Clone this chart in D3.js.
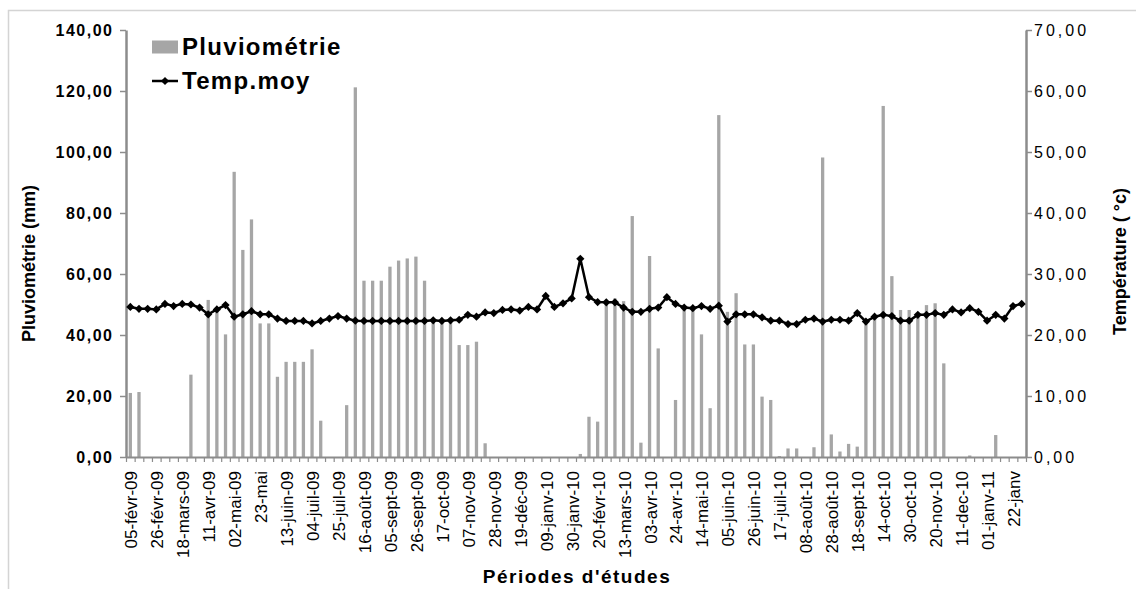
<!DOCTYPE html>
<html lang="fr">
  <head>
    <meta charset="UTF-8"/>
    <title>Pluviométrie et température moyenne</title>
    <script src="https://d3js.org/d3.v7.min.js"></script>
    <style>
      body { margin: 0; background: #fff; }
      text { font-family: 'Liberation Sans', Arial, sans-serif; fill: #000; }
      .axis path, .axis line { stroke: #8c8c8c; fill: none; }
      .y-axis path { stroke-width: 2.5px; }
      .y-axis line { stroke-width: 1.5px; }
      .x-axis path { stroke-width: 2px; }
      .x-axis line { stroke-width: 1.2px; }
      .left-ticks text { font-size: 16px; font-weight: bold; letter-spacing: 1.5px; }
      .right-ticks text { font-size: 16px; letter-spacing: 3px; }
      .x-labels text { font-size: 17px; }
      .axis-title { font-size: 18px; font-weight: bold; }
      .legend text { font-size: 24px; font-weight: bold; letter-spacing: 1.3px; }
      .bar { fill: #a6a6a6; }
      .temp-line { fill: none; stroke: #000; stroke-width: 2.5px; }
    </style>
  </head>
  <body>
    <script>
      // étiquettes affichées (une semaine sur trois)
      const tickLabels = ["05-févr-09", "26-févr-09", "18-mars-09", "11-avr-09", "02-mai-09", "23-mai",
        "13-juin-09", "04-juil-09", "25-juil-09", "16-août-09", "05-sept-09", "26-sept-09", "17-oct-09",
        "07-nov-09", "28-nov-09", "19-déc-09", "09-janv-10", "30-janv-10", "20-févr-10", "13-mars-10",
        "03-avr-10", "24-avr-10", "14-mai-10", "05-juin-10", "26-juin-10", "17-juil-10", "08-août-10",
        "28-août-10", "18-sept-10", "14-oct-10", "30-oct-10", "20-nov-10", "11-dec-10", "01-janv-11", "22-janv"]

      // Pluviométrie (mm), une valeur par période
      const pluvio = [21.0, 21.3, 0, 0, 0, 0, 0, 27.0, 0, 51.5,
        48.0, 40.2, 93.5, 67.9, 77.9, 43.8, 43.8, 26.3, 31.2, 31.2,
        31.2, 35.3, 11.9, 0, 0, 17.0, 121.2, 57.8, 57.8, 57.8,
        62.4, 64.4, 65.1, 65.7, 57.8, 44.5, 44.5, 44.4, 36.7, 36.7,
        37.8, 4.5, 0, 0, 0, 0, 0, 0, 0, 0,
        0, 0, 1.0, 13.2, 11.6, 50.5, 52.0, 51.1, 79.0, 4.7,
        65.9, 35.6, 0, 18.7, 48.2, 48.2, 40.2, 16.0, 112.1, 47.6,
        53.7, 36.9, 36.9, 19.8, 18.7, 0.3, 2.8, 2.8, 0, 3.2,
        98.2, 7.4, 1.8, 4.3, 3.4, 43.9, 45.5, 115.1, 59.3, 48.2,
        48.2, 46.5, 49.8, 50.4, 30.7, 0, 0, 0.5, 0, 0,
        7.2, 0, 0, 0]

      // Température moyenne (°C)
      const tempMoy = [24.6, 24.3, 24.3, 24.2, 25.1, 24.75, 25.1, 25.0, 24.5, 23.4,
        24.2, 24.9, 23.0, 23.4, 23.9, 23.4, 23.4, 22.7, 22.3, 22.3,
        22.3, 21.9, 22.3, 22.7, 23.1, 22.7, 22.35, 22.3, 22.3, 22.3,
        22.3, 22.3, 22.3, 22.3, 22.3, 22.4, 22.3, 22.4, 22.5, 23.3,
        23.0, 23.7, 23.6, 24.1, 24.2, 24.0, 24.6, 24.2, 26.4, 24.6,
        25.2, 26.0, 32.5, 26.2, 25.4, 25.35, 25.35, 24.5, 23.8, 23.8,
        24.3, 24.5, 26.2, 25.1, 24.5, 24.4, 24.75, 24.3, 24.8, 22.2,
        23.4, 23.4, 23.4, 22.9, 22.35, 22.35, 21.8, 21.8, 22.5, 22.7,
        22.2, 22.5, 22.5, 22.35, 23.6, 22.2, 23.0, 23.3, 23.1, 22.35,
        22.35, 23.3, 23.3, 23.6, 23.3, 24.2, 23.7, 24.4, 23.8, 22.35,
        23.3, 22.7, 24.75, 25.1]

      const pluvioTicks = d3.range(0, 141, 20)
      const tempTicks = d3.range(0, 71, 10)

      const width = 1136, height = 589
      const margin = {top: 30, right: 110, bottom: 132, left: 126}
      const x0 = margin.left, x1 = width - margin.right
      const y0 = height - margin.bottom, y1 = margin.top

      const fmt = v => d3.format(".2f")(v).replace(".", ",")

      const svg = d3.select("body").append("svg")
          .attr("width", width)
          .attr("height", height)

      // cadre gris clair
      svg.append("rect")
          .attr("x", 8.5).attr("y", 10.5)
          .attr("width", 1200).attr("height", 700)
          .attr("fill", "none").attr("stroke", "#d4d4d4").attr("stroke-width", 1.5)

      const idx = d3.range(pluvio.length)

      const x = d3.scaleBand().domain(idx).range([x0, x1]).padding(0)
      const xEdge = d3.scaleLinear().domain([0, idx.length]).range([x0, x1])
      const yL = d3.scaleLinear().domain([0, 140]).range([y0, y1])
      const yR = d3.scaleLinear().domain([0, 70]).range([y0, y1])

      const barW = x.bandwidth() * 0.38

      // barres de pluviométrie
      svg.append("g").selectAll("rect")
        .data(pluvio)
        .join("rect")
          .attr("class", "bar")
          .attr("x", (d, i) => x(i) + x.bandwidth() / 2 - barW / 2)
          .attr("width", barW)
          .attr("y", d => yL(d))
          .attr("height", d => yL(0) - yL(d))

      // axe gauche
      const leftAxis = svg.append("g")
          .attr("class", "axis y-axis left-ticks")
          .attr("transform", `translate(${x0},0)`)
          .call(d3.axisLeft(yL).tickValues(pluvioTicks).tickFormat(fmt).tickSize(6).tickSizeOuter(0).tickPadding(8))
      leftAxis.selectAll("text").attr("dx", "1.5px")

      // axe droit
      svg.append("g")
          .attr("class", "axis y-axis right-ticks")
          .attr("transform", `translate(${x1},0)`)
          .call(d3.axisRight(yR).tickValues(tempTicks).tickFormat(fmt).tickSize(6).tickSizeOuter(0).tickPadding(2))

      // axe des x : graduations entre catégories
      svg.append("g")
          .attr("class", "axis x-axis")
          .attr("transform", `translate(0,${y0})`)
          .call(d3.axisBottom(xEdge).tickValues(d3.range(idx.length + 1)).tickFormat("").tickSize(5).tickSizeOuter(0))

      // étiquettes des dates
      const xl = svg.append("g")
          .attr("class", "x-labels")
          .attr("transform", `translate(0,${y0})`)
          .call(d3.axisBottom(x).tickValues(idx.filter(i => i % 3 === 0))
            .tickFormat(i => tickLabels[i / 3]).tickSize(0))
      xl.select(".domain").remove()
      xl.selectAll("text")
          .attr("transform", "rotate(-90)")
          .attr("x", -14)
          .attr("y", 1)
          .attr("dy", "0.35em")
          .attr("text-anchor", "end")

      // courbe de température
      const line = d3.line()
          .x((d, i) => x(i) + x.bandwidth() / 2)
          .y(d => yR(d))

      svg.append("path")
          .datum(tempMoy)
          .attr("class", "temp-line")
          .attr("d", line)

      const diamond = d3.symbol().type(d3.symbolSquare).size(34)

      svg.append("g").selectAll("path")
        .data(tempMoy)
        .join("path")
          .attr("d", diamond)
          .attr("transform", (d, i) => `translate(${x(i) + x.bandwidth() / 2},${yR(d)}) rotate(45)`)
          .attr("fill", "#000")

      // titres des axes
      svg.append("text")
          .attr("class", "axis-title")
          .attr("transform", `translate(35,${(y0 + y1) / 2 + 20}) rotate(-90)`)
          .attr("text-anchor", "middle")
          .text("Pluviométrie (mm)")

      svg.append("text")
          .attr("class", "axis-title")
          .attr("transform", `translate(1126,${(y0 + y1) / 2 + 18}) rotate(-90)`)
          .attr("text-anchor", "middle")
          .text("Température ( °c)")

      svg.append("text")
          .attr("class", "axis-title")
          .attr("x", 577)
          .attr("y", 583)
          .attr("text-anchor", "middle")
          .style("font-size", "19px")
          .style("letter-spacing", "1.5px")
          .text("Périodes d'études")

      // légende
      const legend = svg.append("g").attr("class", "legend")

      legend.append("rect")
          .attr("x", 152).attr("y", 40.5)
          .attr("width", 26).attr("height", 13)
          .attr("fill", "#a6a6a6")
      legend.append("text")
          .attr("x", 182).attr("y", 55)
          .text("Pluviométrie")

      legend.append("line")
          .attr("x1", 152).attr("x2", 178)
          .attr("y1", 81).attr("y2", 81)
          .attr("stroke", "#000").attr("stroke-width", 2.5)
      legend.append("path")
          .attr("d", diamond)
          .attr("transform", "translate(165,81) rotate(45)")
          .attr("fill", "#000")
      legend.append("text")
          .attr("x", 182).attr("y", 89)
          .text("Temp.moy")
    </script>
  </body>
</html>
